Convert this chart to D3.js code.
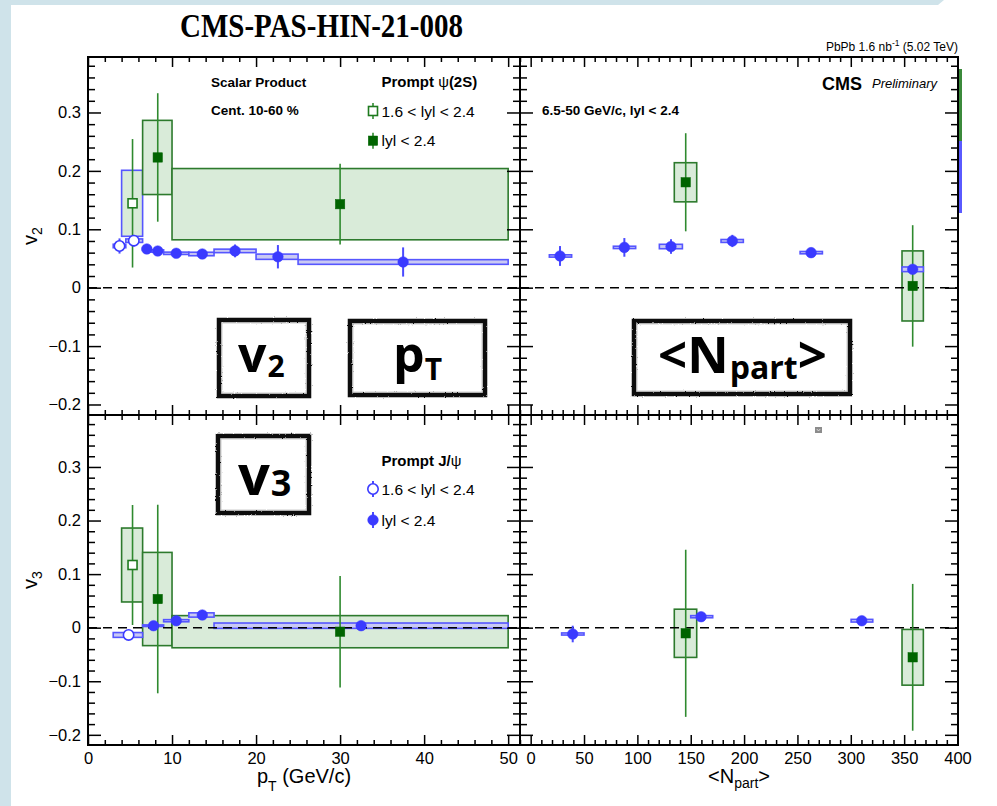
<!DOCTYPE html>
<html>
<head>
<meta charset="utf-8">
<script src="https://cdn.jsdelivr.net/npm/d3@7"></script>
<style>
  body { margin: 0; background: #fff; }
  svg { display: block; }
</style>
</head>
<body>
<svg id="chart" width="997" height="806"></svg>
<script>
// ---------------- data ----------------
// tick labels
const ptTicks = [0, 10, 20, 30, 40, 50];
const npartTicks = [0, 50, 100, 150, 200, 250, 300, 350, 400];
const vTicks = [-0.2, -0.1, 0, 0.1, 0.2, 0.3];
const vTickLabels = ["\u22120.2", "\u22120.1", "0", "0.1", "0.2", "0.3"];

// rows: [x, value, stat. error, syst. half-height, box low edge, box high edge]
// v2 vs pT
const psiV2PtFwd  = [[5.3, 0.1445, 0.110, 0.0565, 4.0, 6.5]];
const psiV2PtMid  = [[8.3, 0.223, 0.110, 0.0635, 6.5, 10], [30, 0.143, 0.069, 0.061, 10, 50]];
const jpsiV2PtFwd = [[3.75, 0.0714, 0.013, 0.003, 3.0, 4.5], [5.45, 0.0805, 0.010, 0.003, 4.5, 6.5]];
const jpsiV2PtMid = [[7.0, 0.0663, 0.004, 0.002, 6.5, 7.5], [8.3, 0.0628, 0.003, 0.002, 7.5, 9],
                     [10.5, 0.0589, 0.003, 0.002, 9, 12], [13.6, 0.0577, 0.004, 0.003, 12, 15],
                     [17.5, 0.063, 0.011, 0.003, 15, 20], [22.6, 0.053, 0.020, 0.0045, 20, 25],
                     [37.5, 0.044, 0.025, 0.004, 25, 50]];
// v2 vs <Npart>
const psiV2Npart  = [[145.3, 0.1805, 0.084, 0.0335, 134.6, 155.6], [358, 0.003, 0.104, 0.060, 348, 368]];
const jpsiV2Npart = [[27.5, 0.0543, 0.017, 0.002, 17.5, 38.4], [87.8, 0.069, 0.016, 0.002, 77.5, 98.4],
                     [131.5, 0.0705, 0.0125, 0.0038, 120.6, 142.2], [189, 0.080, 0.0105, 0.0025, 178.4, 199.3],
                     [262.8, 0.060, 0.008, 0.002, 252.5, 273.4], [358, 0.0315, 0.006, 0.004, 348, 368]];
// v3 vs pT
const psiV3PtFwd  = [[5.3, 0.117, 0.112, 0.069, 4.0, 6.5]];
const psiV3PtMid  = [[8.3, 0.0535, 0.176, 0.087, 6.5, 10], [30, -0.0075, 0.104, 0.030, 10, 50]];
const jpsiV3PtFwd = [[4.83, -0.0136, 0.004, 0.0045, 3.0, 6.5]];
const jpsiV3PtMid = [[7.8, 0.0037, 0.004, 0.0015, 6.5, 9], [10.5, 0.013, 0.004, 0.002, 9, 12],
                     [13.6, 0.0237, 0.004, 0.004, 12, 15], [32.5, 0.0037, 0.006, 0.005, 15, 50]];
// v3 vs <Npart>
const psiV3Npart  = [[145.3, -0.0105, 0.156, 0.045, 134.6, 155.6], [358, -0.0553, 0.137, 0.052, 348, 368]];
const jpsiV3Npart = [[39.4, -0.0118, 0.0155, 0.002, 29, 50], [159.7, 0.0205, 0.004, 0.002, 150, 170.6],
                     [310.3, 0.013, 0.004, 0.0025, 300.3, 320.6]];

// ---------------- styles ----------------
const SANS = "'Liberation Sans', Arial, Helvetica, sans-serif";
const GREEN_MARK = "#006400", GREEN_LINE = "#2f8a2f", GREEN_FILL = "#d9ebd9", GREEN_BOX = "#2d7a2d";
const BLUE_MARK = "#3a3aff", BLUE_LINE = "#4a4aff", BLUE_FILL = "#c9c9f3", BLUE_BOX = "#5656ff";

const svg = d3.select("#chart");
const defs = svg.append("defs");

// rough brush outline for the hand-drawn label frames
const rough = defs.append("filter").attr("id", "rough")
  .attr("x", "-10%").attr("y", "-10%").attr("width", "120%").attr("height", "120%");
rough.append("feTurbulence").attr("type", "fractalNoise").attr("baseFrequency", 0.9)
  .attr("numOctaves", 2).attr("seed", 4).attr("result", "noise");
rough.append("feDisplacementMap").attr("in", "SourceGraphic").attr("in2", "noise")
  .attr("scale", 2.2).attr("xChannelSelector", "R").attr("yChannelSelector", "G");

// page background bands
svg.append("rect").attr("width", 997).attr("height", 806).attr("fill", "#fff");
svg.append("rect").attr("x", 0).attr("y", 0).attr("width", 11).attr("height", 806).attr("fill", "#cfe3ea");
svg.append("polygon").attr("points", "0,0 944,0 938,5 0,5").attr("fill", "#cfe3ea");

// ---------------- layout & scales ----------------
const L = 88, M = 520, R = 958, T = 57, H = 415, B = 745;
const xPt = d3.scaleLinear().domain([0, 51.35]).range([L, M - 0.5]);
const xNp = d3.scaleLinear().domain([-10, 400]).range([M, R - 0.5]);
const yTop = d3.scaleLinear().domain([-0.218, 0.395]).range([H, T]);
const yBot = d3.scaleLinear().domain([-0.219, 0.397]).range([B, H]);

const panels = [
  { id: "tl", x: xPt, y: yTop, x0: L, x1: M, y0: T, y1: H },
  { id: "tr", x: xNp, y: yTop, x0: M, x1: R, y0: T, y1: H },
  { id: "bl", x: xPt, y: yBot, x0: L, x1: M, y0: H, y1: B },
  { id: "br", x: xNp, y: yBot, x0: M, x1: R, y0: H, y1: B }
];
panels.forEach(p => {
  defs.append("clipPath").attr("id", "clip-" + p.id)
    .append("rect").attr("x", p.x0).attr("y", p.y0).attr("width", p.x1 - p.x0).attr("height", p.y1 - p.y0);
  p.g = svg.append("g").attr("clip-path", "url(#clip-" + p.id + ")");
});
const P = Object.fromEntries(panels.map(p => [p.id, p]));

// ---------------- mark helpers ----------------
function boxes(p, rows, fill, stroke) {
  p.g.append("g").selectAll("rect").data(rows).join("rect")
    .attr("x", d => p.x(d[4])).attr("width", d => p.x(d[5]) - p.x(d[4]))
    .attr("y", d => p.y(d[1] + d[3])).attr("height", d => p.y(d[1] - d[3]) - p.y(d[1] + d[3]))
    .attr("fill", fill).attr("stroke", stroke).attr("stroke-width", 1.6);
}
function errBars(p, rows, color, w) {
  p.g.append("g").selectAll("line").data(rows).join("line")
    .attr("x1", d => p.x(d[0])).attr("x2", d => p.x(d[0]))
    .attr("y1", d => p.y(d[1] + d[2])).attr("y2", d => p.y(d[1] - d[2]))
    .attr("stroke", color).attr("stroke-width", w);
}
function drawMarker(sel, kind) {
  if (kind === "circle" || kind === "openCircle") {
    sel.append("circle").attr("r", kind === "circle" ? 5.3 : 5.2)
      .attr("fill", kind === "circle" ? BLUE_MARK : "#fff")
      .attr("stroke", BLUE_MARK).attr("stroke-width", kind === "circle" ? 0.5 : 1.6);
  } else {
    const s = kind === "square" ? 9.4 : 9;
    sel.append("rect").attr("x", -s / 2).attr("y", -s / 2).attr("width", s).attr("height", s)
      .attr("fill", kind === "square" ? GREEN_MARK : "#fff")
      .attr("stroke", kind === "square" ? GREEN_MARK : "#1e7a1e").attr("stroke-width", kind === "square" ? 0.5 : 1.6);
  }
}
function markers(p, rows, kind) {
  p.g.append("g").selectAll("g").data(rows).join("g")
    .attr("transform", d => `translate(${p.x(d[0])},${p.y(d[1])})`)
    .each(function () { drawMarker(d3.select(this), kind); });
}
function zeroLine(p) {
  p.g.append("line").attr("x1", p.x0).attr("x2", p.x1).attr("y1", p.y(0)).attr("y2", p.y(0))
    .attr("stroke", "#000").attr("stroke-width", 1.5).attr("stroke-dasharray", "9,6");
}

// ---------------- data layers ----------------
// top-left: v2 vs pT
boxes(P.tl, psiV2PtFwd, GREEN_FILL, BLUE_BOX);
boxes(P.tl, psiV2PtMid, GREEN_FILL, GREEN_BOX);
boxes(P.tl, jpsiV2PtFwd, BLUE_FILL, BLUE_BOX);
boxes(P.tl, jpsiV2PtMid, BLUE_FILL, BLUE_BOX);
zeroLine(P.tl);
errBars(P.tl, psiV2PtFwd, GREEN_LINE, 1.6);
errBars(P.tl, psiV2PtMid, GREEN_LINE, 1.6);
errBars(P.tl, jpsiV2PtFwd, BLUE_LINE, 2);
errBars(P.tl, jpsiV2PtMid, BLUE_LINE, 2);
markers(P.tl, jpsiV2PtFwd, "openCircle");
markers(P.tl, jpsiV2PtMid, "circle");
markers(P.tl, psiV2PtFwd, "openSquare");
markers(P.tl, psiV2PtMid, "square");

// top-right: v2 vs Npart
boxes(P.tr, psiV2Npart, GREEN_FILL, GREEN_BOX);
boxes(P.tr, jpsiV2Npart, BLUE_FILL, BLUE_BOX);
zeroLine(P.tr);
errBars(P.tr, psiV2Npart, GREEN_LINE, 1.6);
errBars(P.tr, jpsiV2Npart, BLUE_LINE, 2);
markers(P.tr, jpsiV2Npart, "circle");
markers(P.tr, psiV2Npart, "square");

// bottom-left: v3 vs pT
boxes(P.bl, psiV3PtFwd, GREEN_FILL, GREEN_BOX);
boxes(P.bl, psiV3PtMid, GREEN_FILL, GREEN_BOX);
boxes(P.bl, jpsiV3PtFwd, BLUE_FILL, BLUE_BOX);
boxes(P.bl, jpsiV3PtMid, BLUE_FILL, BLUE_BOX);
zeroLine(P.bl);
errBars(P.bl, psiV3PtFwd, GREEN_LINE, 1.6);
errBars(P.bl, psiV3PtMid, GREEN_LINE, 1.6);
errBars(P.bl, jpsiV3PtFwd, BLUE_LINE, 2);
errBars(P.bl, jpsiV3PtMid, BLUE_LINE, 2);
markers(P.bl, jpsiV3PtFwd, "openCircle");
markers(P.bl, jpsiV3PtMid, "circle");
markers(P.bl, psiV3PtFwd, "openSquare");
markers(P.bl, psiV3PtMid, "square");

// bottom-right: v3 vs Npart
boxes(P.br, psiV3Npart, GREEN_FILL, GREEN_BOX);
boxes(P.br, jpsiV3Npart, BLUE_FILL, BLUE_BOX);
zeroLine(P.br);
errBars(P.br, psiV3Npart, GREEN_LINE, 1.6);
errBars(P.br, jpsiV3Npart, BLUE_LINE, 2);
markers(P.br, jpsiV3Npart, "circle");
markers(P.br, psiV3Npart, "square");

// ---------------- axes ----------------
const round = v => Math.round(v * 1000) / 1000;
const vMinor = d3.range(-20, 40, 2).filter(v => v % 10 !== 0).map(v => round(v / 100));
const ptMinor = d3.range(0, 52, 2).filter(v => v % 10 !== 0);
const npMinor = d3.range(-10, 401, 10).filter(v => v % 50 !== 0);

function tickGroup(axisGen, tx, ty, labelled) {
  const g = svg.append("g").attr("transform", `translate(${tx},${ty})`).call(axisGen);
  g.select(".domain").remove();
  g.selectAll(".tick line").attr("stroke", "#000").attr("stroke-width", 1.5);
  g.selectAll(".tick text").attr("font-family", SANS).attr("font-size", 16.5).attr("fill", "#000");
  if (!labelled) g.selectAll(".tick text").remove();
  return g;
}
panels.forEach(p => {
  const xMaj = p.x === xPt ? ptTicks : npartTicks;
  const xMin = p.x === xPt ? ptMinor : npMinor;
  const isLeft = p.x0 === L, isBottom = p.y1 === B;
  const yFmt = d => vTickLabels[vTicks.indexOf(d)];
  const vMinIn = vMinor.filter(v => v >= p.y.domain()[0] && v <= p.y.domain()[1]);
  // left / right
  tickGroup(d3.axisLeft(p.y).tickValues(vTicks).tickSize(-13).tickPadding(7).tickFormat(yFmt), p.x0, 0, isLeft);
  tickGroup(d3.axisLeft(p.y).tickValues(vMinIn).tickSize(-7).tickFormat(""), p.x0, 0, false);
  tickGroup(d3.axisRight(p.y).tickValues(vTicks).tickSize(-13).tickFormat(""), p.x1, 0, false);
  tickGroup(d3.axisRight(p.y).tickValues(vMinIn).tickSize(-7).tickFormat(""), p.x1, 0, false);
  // bottom / top
  tickGroup(d3.axisBottom(p.x).tickValues(xMaj).tickSize(-10).tickPadding(7), 0, p.y1, isBottom);
  tickGroup(d3.axisBottom(p.x).tickValues(xMin).tickSize(-5).tickFormat(""), 0, p.y1, false);
  tickGroup(d3.axisTop(p.x).tickValues(xMaj).tickSize(-10).tickFormat(""), 0, p.y0, false);
  tickGroup(d3.axisTop(p.x).tickValues(xMin).tickSize(-5).tickFormat(""), 0, p.y0, false);
  // frame
  svg.append("rect").attr("x", p.x0).attr("y", p.y0).attr("width", p.x1 - p.x0).attr("height", p.y1 - p.y0)
    .attr("fill", "none").attr("stroke", "#000").attr("stroke-width", 2);
});

// axis titles
const ptTitle = svg.append("text").attr("x", 304).attr("y", 783).attr("text-anchor", "middle")
  .attr("font-family", SANS).attr("font-size", 20);
ptTitle.append("tspan").text("p");
ptTitle.append("tspan").attr("font-size", 14).attr("dy", 8).text("T");
ptTitle.append("tspan").attr("dy", -8).text(" (GeV/c)");

const npTitle = svg.append("text").attr("x", 739).attr("y", 783).attr("text-anchor", "middle")
  .attr("font-family", SANS).attr("font-size", 20);
npTitle.append("tspan").text("<N");
npTitle.append("tspan").attr("font-size", 14).attr("dy", 5).text("part");
npTitle.append("tspan").attr("dy", -5).text(">");

[["2", 236], ["3", 580]].forEach(([n, cy]) => {
  const t = svg.append("text").attr("transform", `translate(37,${cy}) rotate(-90)`)
    .attr("text-anchor", "middle").attr("font-family", SANS).attr("font-size", 20);
  t.append("tspan").text("v");
  t.append("tspan").attr("font-size", 14).attr("dy", 5).text(n);
});

// ---------------- headings & annotations ----------------
svg.append("text").attr("x", 180).attr("y", 37)
  .attr("font-family", "'Liberation Serif', 'Times New Roman', serif").attr("font-weight", "bold")
  .attr("font-size", 34).attr("textLength", 283).attr("lengthAdjust", "spacingAndGlyphs")
  .text("CMS-PAS-HIN-21-008");

const lumi = svg.append("text").attr("x", 958).attr("y", 51).attr("text-anchor", "end")
  .attr("font-family", SANS).attr("font-size", 12);
lumi.append("tspan").text("PbPb 1.6 nb");
lumi.append("tspan").attr("font-size", 8.5).attr("dy", -5).text("-1");
lumi.append("tspan").attr("dy", 5).text(" (5.02 TeV)");

function label(x, y, txt, opts = {}) {
  return svg.append("text").attr("x", x).attr("y", y).attr("font-family", SANS)
    .attr("font-size", opts.size || 13.5).attr("font-weight", opts.weight || "bold")
    .attr("font-style", opts.style || "normal").attr("fill", "#000").text(txt);
}
label(211, 87, "Scalar Product");
label(211, 115, "Cent. 10-60 %");
label(542, 115, "6.5-50 GeV/c, lyl < 2.4");
label(822, 89.5, "CMS", { size: 18 });
label(872, 88, "Preliminary", { size: 13, weight: "normal", style: "italic" });

// legends
function legendHeader(x, y, main, sym, tail) {
  const t = svg.append("text").attr("x", x).attr("y", y).attr("font-family", SANS)
    .attr("font-size", 15).attr("font-weight", "bold");
  t.append("tspan").text(main);
  t.append("tspan").attr("font-weight", "normal").text(sym);
  t.append("tspan").text(tail);
}
function legendRow(x, y, kind, color, txt) {
  svg.append("line").attr("x1", x).attr("x2", x).attr("y1", y - 8).attr("y2", y + 8)
    .attr("stroke", color).attr("stroke-width", kind.includes("ircle") ? 2 : 1.6);
  const g = svg.append("g").attr("transform", `translate(${x},${y})`);
  drawMarker(g, kind);
  label(x + 8.5, y + 5.5, txt, { size: 15.5, weight: "normal" });
}
legendHeader(381.5, 87, "Prompt  ", "\u03c8", "(2S)");
legendRow(373, 111, "openSquare", GREEN_LINE, "1.6 < lyl < 2.4");
legendRow(373, 140.7, "square", GREEN_LINE, "lyl < 2.4");
legendHeader(381.5, 465.5, "Prompt J/", "\u03c8", "");
legendRow(373, 489, "openCircle", BLUE_LINE, "1.6 < lyl < 2.4");
legendRow(373, 520, "circle", BLUE_LINE, "lyl < 2.4");

// colour strips beside the top-right frame
svg.append("rect").attr("x", 959).attr("y", 69).attr("width", 3).attr("height", 72).attr("fill", "#3b8a3b");
svg.append("rect").attr("x", 959).attr("y", 141).attr("width", 3).attr("height", 72).attr("fill", "#5a5aff");

// small grey marker box in the lower-right pad
svg.append("rect").attr("x", 815).attr("y", 427).attr("width", 7).attr("height", 6).attr("fill", "#8c8c8c");
svg.append("path").attr("d", "M816.8,429 L818.5,431 L820.2,429").attr("fill", "none")
  .attr("stroke", "#e8e8e8").attr("stroke-width", 0.8);

// ---------------- hand-drawn variable frames ----------------
function sketchBox(x0, y0, x1, y1) {
  const g = svg.append("g");
  g.append("rect").attr("x", x0).attr("y", y0).attr("width", x1 - x0).attr("height", y1 - y0).attr("fill", "#fff");
  // solid core of the brush stroke
  g.append("rect").attr("x", x0 + 2).attr("y", y0 + 2).attr("width", x1 - x0 - 4).attr("height", y1 - y0 - 4)
    .attr("fill", "none").attr("stroke", "#0a0a0a").attr("stroke-width", 2.6);
  // ragged outer edge
  g.append("rect").attr("x", x0 + 2).attr("y", y0 + 2).attr("width", x1 - x0 - 4).attr("height", y1 - y0 - 4)
    .attr("fill", "none").attr("stroke", "#111").attr("stroke-width", 4.5).attr("filter", "url(#rough)");
  // faint inner scratch
  g.append("rect").attr("x", x0 + 5).attr("y", y0 + 5).attr("width", x1 - x0 - 10).attr("height", y1 - y0 - 10)
    .attr("fill", "none").attr("stroke", "#777").attr("stroke-width", 0.7).attr("opacity", 0.5)
    .attr("filter", "url(#rough)");
  return g;
}
const BIG = "'Open Sans', 'DejaVu Sans', sans-serif";
function bigText(x, y, parts) {
  const t = svg.append("text").attr("x", x).attr("y", y).attr("font-family", BIG)
    .attr("font-weight", 700).attr("fill", "#000");
  parts.forEach(([s, size, dy, dx]) => t.append("tspan").attr("font-size", size)
    .attr("dy", dy || 0).attr("dx", dx || 0).text(s));
}
sketchBox(217, 318, 311, 398);
bigText(238, 372, [["v", 50], ["2", 30, 5, 1]]);
sketchBox(348, 319, 487, 397);
bigText(393, 372, [["p", 50], ["T", 30, 8, 0]]);
sketchBox(632, 319, 852, 396);
bigText(658, 373, [["<", 51], ["N", 51], ["part", 32, 6, 1], [">", 51, -6, 0]]);
sketchBox(216, 434, 311, 515);
bigText(238, 495, [["v", 56], ["3", 36, 1, 1]]);
</script>
</body>
</html>
